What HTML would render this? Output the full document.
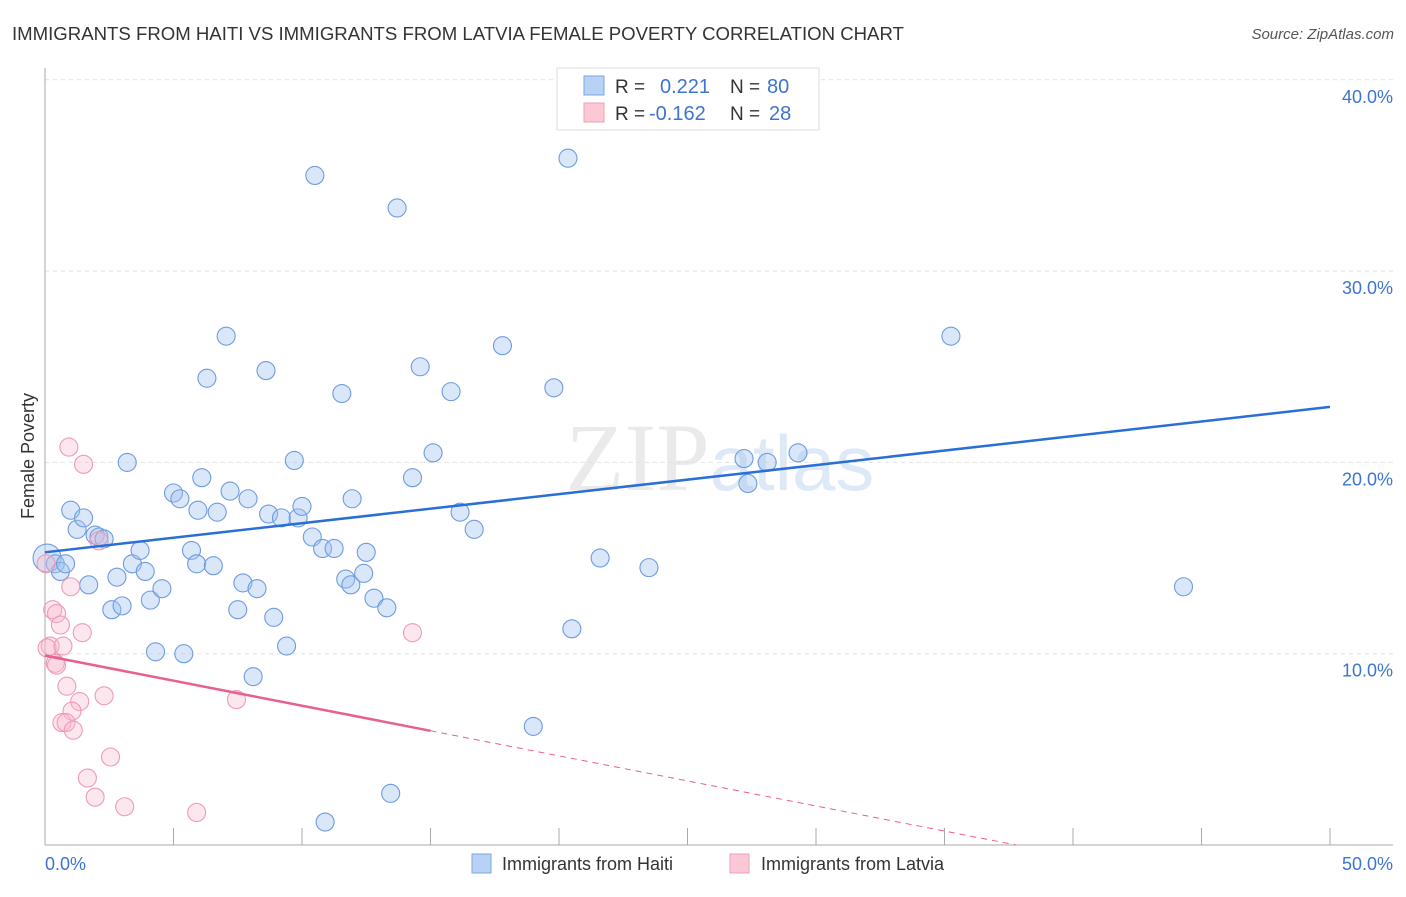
<!DOCTYPE html>
<html><head><meta charset="utf-8"><style>
body{margin:0;background:#fff;font-family:"Liberation Sans",sans-serif}
</style></head><body>
<svg id="chart" width="1406" height="892" xmlns="http://www.w3.org/2000/svg" font-family="Liberation Sans, sans-serif">
<text x="12" y="40" font-size="18.6" fill="#333">IMMIGRANTS FROM HAITI VS IMMIGRANTS FROM LATVIA FEMALE POVERTY CORRELATION CHART</text>
<text x="1394" y="39" font-size="15" fill="#555" font-style="italic" text-anchor="end">Source: ZipAtlas.com</text>
<text x="720" y="490" font-size="96" fill="#ddd" text-anchor="middle" font-family="Liberation Serif, serif" opacity="0.6">ZIP<tspan fill="#c8dcf2" font-family="Liberation Sans, sans-serif" font-size="78">atlas</tspan></text>
<g id="grid"></g>
<g id="axes"></g>
<g id="marks"></g>
<text transform="translate(34,456) rotate(-90)" font-size="18" fill="#333" text-anchor="middle">Female Poverty</text>
<g>
<rect x="557" y="68" width="262" height="62" fill="#fff" stroke="#ddd"/>
<rect x="584" y="76" width="20" height="19" fill="#b8d2f4" stroke="#7aa7e0"/>
<text x="615" y="93" font-size="19" fill="#333">R =</text><text x="660" y="93" font-size="20" fill="#3d74d0">0.221</text>
<text x="730" y="93" font-size="19" fill="#333">N =</text><text x="767" y="93" font-size="20" fill="#3d74d0">80</text>
<rect x="584" y="103" width="20" height="19" fill="#fcc8d6" stroke="#eba0b6"/>
<text x="615" y="120" font-size="19" fill="#333">R =</text><text x="649" y="120" font-size="20" fill="#3d74d0">-0.162</text>
<text x="730" y="120" font-size="19" fill="#333">N =</text><text x="769" y="120" font-size="20" fill="#3d74d0">28</text>
</g>
<g>
<rect x="472" y="854" width="19" height="19" fill="#b8d2f4" stroke="#7aa7e0"/>
<text x="502" y="870" font-size="18" fill="#333">Immigrants from Haiti</text>
<rect x="730" y="854" width="19" height="19" fill="#fcc8d6" stroke="#eba0b6"/>
<text x="761" y="870" font-size="18" fill="#333">Immigrants from Latvia</text>
</g>
</svg>
<script>
const haitiX=[0.08,0.4,0.6,0.8,1.0,1.25,1.5,1.7,1.95,2.1,2.3,2.6,2.8,3.0,3.2,3.4,3.7,3.9,4.1,4.3,4.55,5.0,5.25,5.4,5.7,5.9,5.95,6.1,6.3,6.55,6.7,7.05,7.2,7.5,7.7,7.9,8.1,8.25,8.6,8.7,8.9,9.2,9.4,9.7,9.85,10.0,10.4,10.5,10.8,10.9,11.25,11.55,11.7,11.9,11.95,12.4,12.5,12.8,13.3,13.45,13.7,14.3,14.6,15.1,15.8,16.15,16.7,17.8,19.0,19.8,20.35,20.5,21.6,23.5,27.2,27.35,28.1,29.3,35.25,44.3];
const haitiY=[15.0,14.7,14.3,14.7,17.5,16.5,17.1,13.6,16.2,16.1,16.0,12.3,14.0,12.5,20.0,14.7,15.4,14.3,12.8,10.1,13.4,18.4,18.1,10.0,15.4,14.7,17.5,19.2,24.4,14.6,17.4,26.6,18.5,12.3,13.7,18.1,8.8,13.4,24.8,17.3,11.9,17.1,10.4,20.1,17.1,17.7,16.1,35.0,15.5,1.2,15.5,23.6,13.9,13.6,18.1,14.2,15.3,12.9,12.4,2.7,33.3,19.2,25.0,20.5,23.7,17.4,16.5,26.1,6.2,23.9,35.9,11.3,15.0,14.5,20.2,18.9,20.0,20.5,26.6,13.5];
const latviaX=[0.04,0.3,0.45,0.6,0.2,0.08,0.7,0.4,0.45,0.93,1.5,1.0,1.45,2.1,0.85,2.3,1.35,1.05,0.66,0.82,1.1,7.45,2.55,1.65,1.95,3.1,5.9,14.3];
const latviaY=[14.7,12.3,12.1,11.5,10.4,10.3,10.4,9.5,9.4,20.8,19.9,13.5,11.1,15.9,8.3,7.8,7.5,7.0,6.4,6.4,6.0,7.6,4.6,3.5,2.5,2.0,1.7,11.1];
const yTicks=[10,20,30,40];
const yTickLabels=["10.0%","20.0%","30.0%","40.0%"];
const xTicks=[0,5,10,15,20,25,30,35,40,45,50];
const haitiTrend=[15.3,22.9];
const latviaTrend=[9.9,-0.262];
const NS="http://www.w3.org/2000/svg";
const xs=v=>45+v/50*1285, ys=v=>845-v*19.13;
function mk(tag,attrs,parent){const e=document.createElementNS(NS,tag);for(const k in attrs)e.setAttribute(k,attrs[k]);document.getElementById(parent).appendChild(e);return e;}
yTicks.forEach((t,i)=>{
 const g=mk('line',{x1:45,x2:1393,y1:ys(t),y2:ys(t),stroke:'#e2e2e2','stroke-dasharray':'4,4'},'grid');
 
 
 const l=mk('text',{x:1393,y:ys(t)+23,'font-size':18,fill:'#3d74d0','text-anchor':'end'},'axes');
 l.textContent=yTickLabels[i];
 
 
});
const ax=mk('line',{x1:45,x2:45,y1:68,y2:845,stroke:'#aaa'},'axes');


const bx=mk('line',{x1:45,x2:1393,y1:845,y2:845,stroke:'#aaa'},'axes');


xTicks.forEach(t=>{if(t===0)return;
 const e=mk('line',{x1:xs(t),x2:xs(t),y1:828,y2:845,stroke:'#aaa'},'axes');
 
 
});
const x0=mk('text',{x:45,y:870,'font-size':18,fill:'#3d74d0'},'axes');x0.textContent='0.0%';


const x1=mk('text',{x:1393,y:870,'font-size':18,fill:'#3d74d0','text-anchor':'end'},'axes');x1.textContent='50.0%';


haitiX.forEach((x,i)=>{
 const c=mk('circle',{cx:xs(x),cy:ys(haitiY[i]),r:i===0?14:9,fill:'rgba(160,196,240,0.4)',stroke:'#6e9be0','stroke-width':1.1},'marks');
 
 
});
latviaX.forEach((x,i)=>{
 const c=mk('circle',{cx:xs(x),cy:ys(latviaY[i]),r:9,fill:'rgba(248,185,205,0.35)',stroke:'#ee9ab6','stroke-width':1.1},'marks');
 
 
});
const bl=mk('line',{x1:xs(0),y1:ys(haitiTrend[0]),x2:xs(50),y2:ys(haitiTrend[1]),stroke:'#2a6fd6','stroke-width':2.5},'marks');


const pf=x=>latviaTrend[0]+latviaTrend[1]*x;
const pl=mk('line',{x1:xs(0),y1:ys(pf(0)),x2:xs(15),y2:ys(pf(15)),stroke:'#e8608e','stroke-width':2.5},'marks');


const xz=-latviaTrend[0]/latviaTrend[1];
const pd=mk('line',{x1:xs(15),y1:ys(pf(15)),x2:xs(xz),y2:ys(0),stroke:'#e8608e','stroke-width':1,'stroke-dasharray':'6,5'},'marks');


</script>
</body></html>
